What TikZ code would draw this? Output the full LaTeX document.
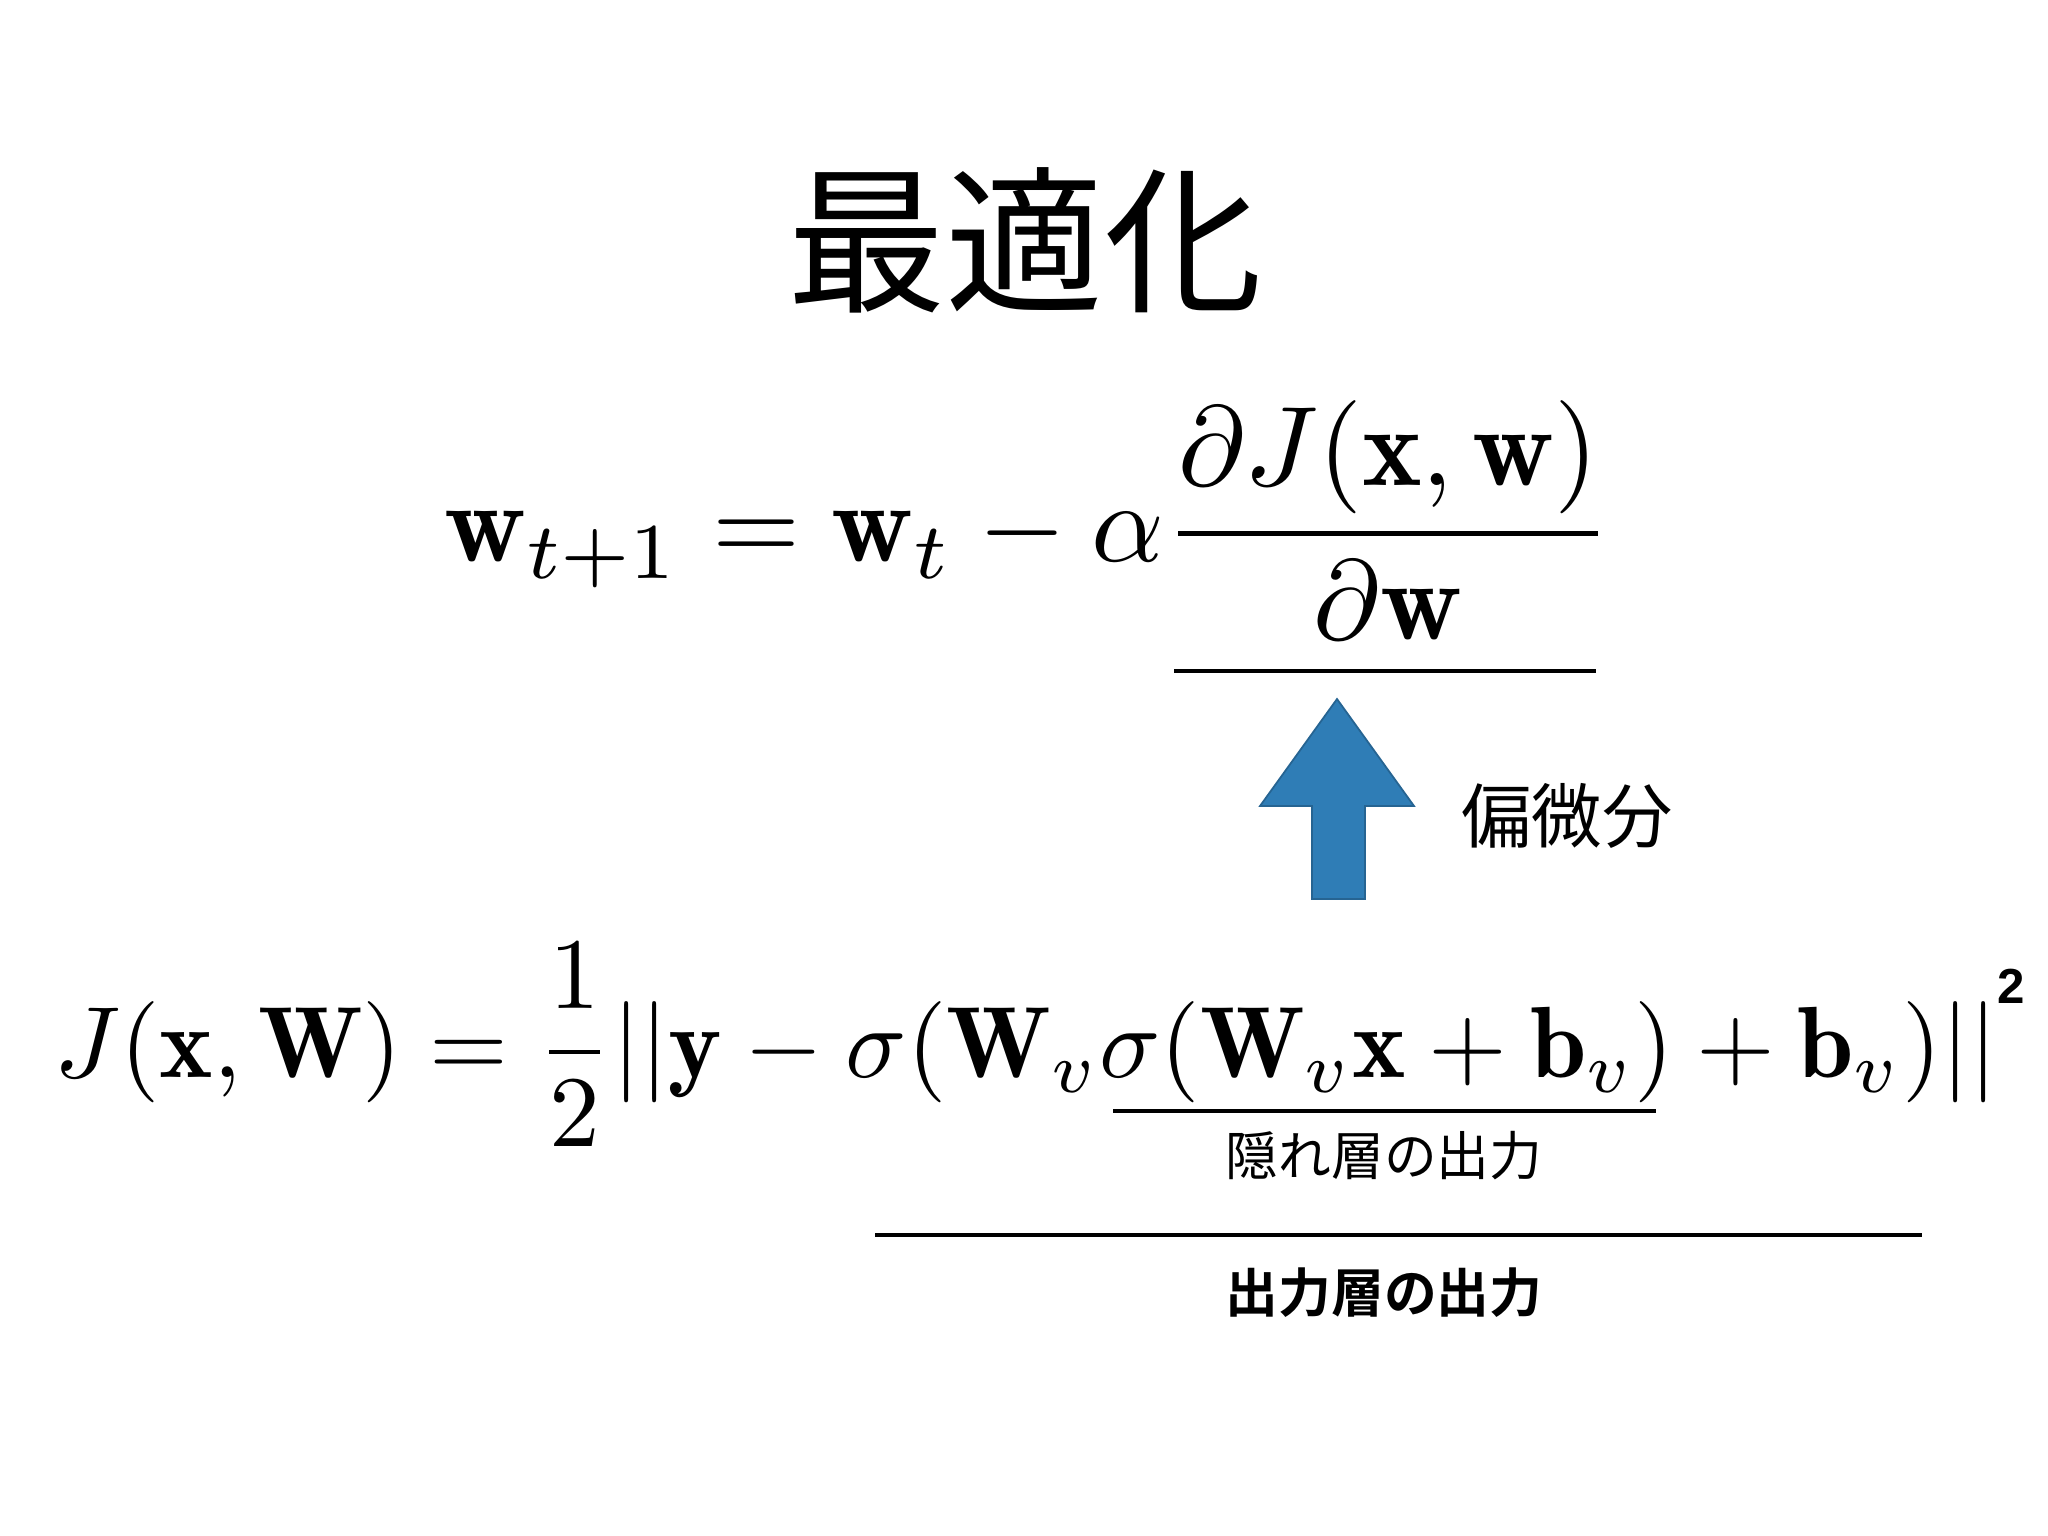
\documentclass[tikz,border=0pt]{standalone}
\usepackage{amsmath}
\usepackage{fontspec}
\newfontfamily\cjk{Noto Sans CJK JP}
\newfontfamily\cjkb{Noto Sans CJK JP Bold}
\newfontfamily\sansb{Liberation Sans}
\definecolor{arrowblue}{HTML}{2F7DB6}
\tikzset{cjklabel/.style={inner sep=0pt,font=\cjk}, uline/.style={line width=1.4pt}}
\begin{document}
\begin{tikzpicture}[x=0.01cm,y=-0.01cm]
\useasboundingbox (0,0) rectangle (2048,1536);
\node[cjklabel,font=\cjk\fontsize{45}{54}\selectfont] (title) at (1025,240) {最適化};
\node[inner sep=0pt,scale=3.22] (f1) at (1028,520) {$\displaystyle \mathbf{w}_{t+1}=\mathbf{w}_t-\alpha\frac{\partial J(\mathbf{x},\mathbf{w})}{\partial\mathbf{w}}$};
\coordinate (l1a) at (1174,671); \coordinate (l1b) at (1596,671);
\draw[uline] (l1a) -- (l1b);
\path[fill=arrowblue,draw=arrowblue!80!black,line width=0.5pt] (1337,699) -- (1414,806) -- (1365,806) -- (1365,899) -- (1312,899) -- (1312,806) -- (1260,806) -- cycle;
\node[cjklabel,font=\cjk\fontsize{20}{24}\selectfont] (pd) at (1567,816) {偏微分};
\node[inner sep=0pt,scale=2.88] (f2) at (1026,1045) {$\displaystyle J(\mathbf{x},\mathbf{W})=\frac{1}{2}||\mathbf{y}-\sigma(\mathbf{W}_v\sigma(\mathbf{W}_v\mathbf{x}+\mathbf{b}_v)+\mathbf{b}_v)||$};
\node[inner sep=0pt,font=\sansb\bfseries\fontsize{14}{16}\selectfont] (sq) at (2011,986) {2};
\coordinate (l2a) at (1113,1111); \coordinate (l2b) at (1656,1111);
\draw[uline] (l2a) -- (l2b);
\node[cjklabel,font=\cjk\fontsize{15}{18}\selectfont] (hid) at (1384,1156) {隠れ層の出力};
\coordinate (l3a) at (875,1235); \coordinate (l3b) at (1922,1235);
\draw[uline] (l3a) -- (l3b);
\node[cjklabel,font=\cjkb\fontsize{15}{18}\selectfont] (out) at (1384,1293) {出力層の出力};
\end{tikzpicture}
\end{document}
